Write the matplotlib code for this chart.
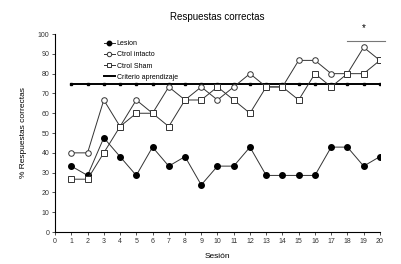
import matplotlib
matplotlib.use("Agg")
import matplotlib.pyplot as plt

plt.rcParams["font.family"] = ["Liberation Sans", "DejaVu Sans"]

# data
sesion = list(range(1, 21))
lesion = [33.3, 28.6, 47.6, 38.1, 28.6, 42.9, 33.3, 38.1, 23.8, 33.3,
          33.3, 42.9, 28.6, 28.6, 28.6, 28.6, 42.9, 42.9, 33.3, 38.1]
ctrol_intacto = [40.0, 40.0, 66.7, 53.3, 66.7, 60.0, 73.3, 66.7, 73.3, 66.7,
                 73.3, 80.0, 73.3, 73.3, 86.7, 86.7, 80.0, 80.0, 93.3, 86.7]
ctrol_sham = [26.7, 26.7, 40.0, 53.3, 60.0, 60.0, 53.3, 66.7, 66.7, 73.3,
              66.7, 60.0, 73.3, 73.3, 66.7, 80.0, 73.3, 80.0, 80.0, 86.7]
criterio = [75] * 20
sig_span = [18, 20.3]
sig_y = 96.5

fig = plt.figure(figsize=(4.02, 2.64), dpi=100)
ax = fig.add_axes([0.137, 0.121, 0.808, 0.75])

lc = "#333333"
ax.plot(sesion, criterio, color="black", lw=1.4, marker="s", ms=1.8,
        label="Criterio aprendizaje", zorder=2)
ax.plot(sesion, lesion, color=lc, lw=0.7, marker="o", ms=4,
        mfc="black", mec="black", label="Lesion", zorder=3)
ax.plot(sesion, ctrol_intacto, color=lc, lw=0.7, marker="o", ms=4,
        mfc="white", mec=lc, mew=0.7, label="Ctrol intacto", zorder=4)
ax.plot(sesion, ctrol_sham, color=lc, lw=0.7, marker="s", ms=4,
        mfc="white", mec=lc, mew=0.7, label="Ctrol Sham", zorder=4)

# significance bar
ax.plot(sig_span, [sig_y, sig_y], color="#777777", lw=0.8, clip_on=False)
ax.text(19, 100.5, "*", ha="center", va="bottom", fontsize=7, clip_on=False)

ax.set_xlim(0, 20)
ax.set_ylim(0, 100)
ax.set_xticks(range(0, 21))
ax.set_yticks(range(0, 101, 10))
ax.tick_params(labelsize=5, length=2, width=0.6, pad=2, colors="#333333")
for side in ["top", "right"]:
    ax.spines[side].set_visible(False)
for side in ["left", "bottom"]:
    ax.spines[side].set_linewidth(0.8)

ax.set_title("Respuestas correctas", fontsize=7, pad=10)
ax.set_xlabel("Sesión", fontsize=6, labelpad=6)
ax.set_ylabel("% Respuestas correctas", fontsize=6, labelpad=8)

handles, labels = ax.get_legend_handles_labels()
order = [1, 2, 3, 0]
leg = ax.legend([handles[i] for i in order], [labels[i] for i in order],
                loc="upper left", bbox_to_anchor=(0.13, 1.0), frameon=False,
                fontsize=5, handlelength=1.6, handletextpad=0.3,
                labelspacing=0.6, markerscale=0.8)
leg.legend_handles[3].set_marker("")

fig.savefig("out.png", dpi=100)
